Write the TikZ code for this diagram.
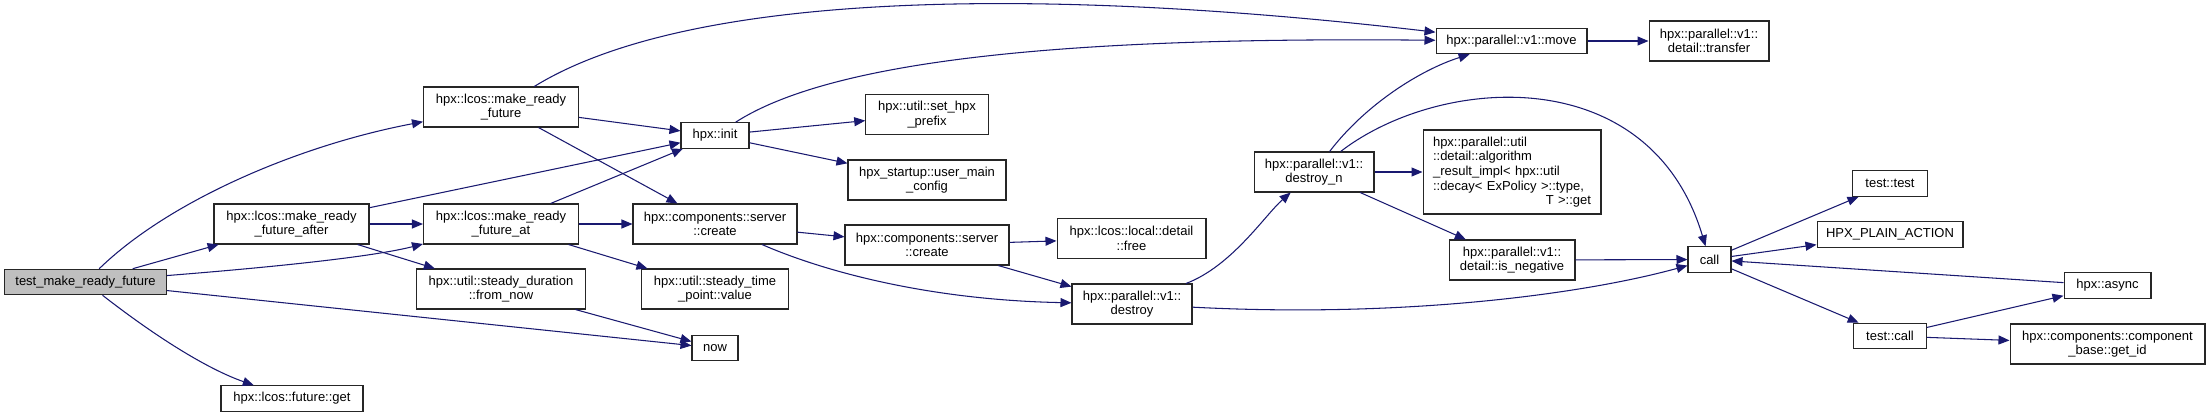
\documentclass[tikz,border=0pt]{standalone}
\usepackage{fontspec}
\setmainfont{Liberation Sans}
\usetikzlibrary{arrows.meta}
\definecolor{edgeBlue}{HTML}{191970}
\definecolor{rootGray}{HTML}{BFBFBF}
\tikzset{
  every node/.style={font=\fontsize{7.4}{8.35}\selectfont},
  fn/.style={draw=black!85, line width=0.6pt, fill=white, inner xsep=2pt, inner ysep=1pt,
             minimum height=0.51cm, align=center},
  fnTwo/.style={fn, minimum height=0.80cm},
  fnRoot/.style={fn, fill=rootGray},
  arr/.style={-{Triangle[length=0.22cm,width=0.18cm]}, draw=edgeBlue, line width=0.6pt},
}

\begin{document}
\begin{tikzpicture}[x=0.02cm, y=-0.02cm]
  \useasboundingbox[fill=white] (0,0) rectangle (2211,417);
  % caller
  \node[fnRoot, minimum width=3.24cm] (tmrf) at (85.5,282) {test\_make\_ready\_future};
  % first rank
  \node[fnTwo, minimum width=3.10cm] (mrfa)  at (291.5,224) {hpx::lcos::make\_ready\\\_future\_after};
  \node[fn,    minimum width=2.84cm] (fget)  at (292,398.5) {hpx::lcos::future::get};
  \node[fnTwo, minimum width=3.10cm] (mrf)   at (501,107) {hpx::lcos::make\_ready\\\_future};
  \node[fnTwo, minimum width=3.10cm] (mrfat) at (501,224) {hpx::lcos::make\_ready\\\_future\_at};
  \node[fnTwo, minimum width=3.37cm] (fromnow) at (501,289) {hpx::util::steady\_duration\\::from\_now};
  % middle
  \node[fn,    minimum width=1.36cm] (init) at (715,135.5) {hpx::init};
  \node[fnTwo, minimum width=3.28cm] (csc1) at (715,224) {hpx::components::server\\::create};
  \node[fnTwo, minimum width=2.94cm] (stpv) at (715,289) {hpx::util::steady\_time\\\_point::value};
  \node[fn,    minimum width=0.92cm] (now)  at (715,348) {now};
  \node[fnTwo, minimum width=2.45cm] (prefix) at (927,114.5) {hpx::util::set\_hpx\\\_prefix};
  \node[fnTwo, minimum width=3.16cm] (umc)    at (927,180) {hpx\_startup::user\_main\\\_config};
  \node[fnTwo, minimum width=3.28cm] (csc2)   at (927,245) {hpx::components::server\\::create};
  \node[fnTwo, minimum width=2.98cm] (free)    at (1131.5,238.5) {hpx::lcos::local::detail\\::free};
  \node[fnTwo, minimum width=2.40cm] (destroy) at (1132,304) {hpx::parallel::v1::\\destroy};
  \node[fnTwo, minimum width=2.40cm] (destroyn) at (1314,172) {hpx::parallel::v1::\\destroy\_n};
  % parallel algorithms
  \node[fn,    minimum width=3.02cm] (move) at (1511.5,41) {hpx::parallel::v1::move};
  \node[fn, minimum height=1.68cm, text width=3.16cm, inner xsep=0.2cm, align=left] (algo) at (1512,172)
    {hpx::parallel::util\\::detail::algorithm\\\_result\_impl< hpx::util\\::decay< ExPolicy >::type,\\\hspace*{\fill}T >::get\hspace*{\fill}};
  \node[fnTwo, minimum width=2.52cm] (isneg)    at (1512,260) {hpx::parallel::v1::\\detail::is\_negative};
  \node[fnTwo, minimum width=2.40cm] (transfer) at (1709,41) {hpx::parallel::v1::\\detail::transfer};
  % call and its callees
  \node[fn, minimum width=0.86cm] (call)  at (1709.5,259.5) {call};
  \node[fn, minimum width=1.49cm] (ttest) at (1890,183.5) {test::test};
  \node[fn, minimum width=2.92cm] (plain) at (1890,234.5) {HPX\_PLAIN\_ACTION};
  \node[fn, minimum width=1.45cm] (tcall) at (1890,336) {test::call};
  \node[fn, minimum width=1.74cm] (async) at (2107.5,285.5) {hpx::async};
  \node[fnTwo, minimum width=3.90cm] (getid) at (2107.5,344) {hpx::components::component\\\_base::get\_id};
  % edges from the caller
  \draw[arr] (tmrf) .. controls (170,200) and (300,145) .. (mrf);
  \draw[arr] (tmrf) -- (mrfa);
  \draw[arr] (tmrf) .. controls (300,265) and (380,255) .. (mrfat);
  \draw[arr] (tmrf) -- (now);
  \draw[arr] (tmrf) .. controls (160,340) and (210,370) .. (fget);
  % make_ready_future family
  \draw[arr] (mrf) .. controls (694,-12) and (1056,-12) .. (move);
  \draw[arr] (mrf) -- (init); \draw[arr] (mrf) -- (csc1);
  \draw[arr] (mrfa) -- (init); \draw[arr] (mrfa) -- (mrfat); \draw[arr] (mrfa) -- (fromnow);
  \draw[arr] (mrfat) -- (init); \draw[arr] (mrfat) -- (csc1); \draw[arr] (mrfat) -- (stpv);
  \draw[arr] (fromnow) -- (now);
  % init
  \draw[arr] (init) .. controls (840,55) and (1100,37) .. (move);
  \draw[arr] (init) -- (prefix); \draw[arr] (init) -- (umc);
  % create / destroy
  \draw[arr] (csc1) -- (csc2);
  \draw[arr] (csc1) .. controls (825,272) and (930,300) .. (destroy);
  \draw[arr] (csc2) -- (free); \draw[arr] (csc2) -- (destroy);
  \draw[arr] (destroy) .. controls (1232,266) and (1265,215) .. (destroyn);
  \draw[arr] (destroy) .. controls (1400,318) and (1580,295) .. (call);
  \draw[arr] (destroyn) .. controls (1365,105) and (1420,70) .. (move);
  \draw[arr] (destroyn) .. controls (1440,75) and (1650,60) .. (call);
  \draw[arr] (destroyn) -- (algo); \draw[arr] (destroyn) -- (isneg);
  \draw[arr] (isneg) -- (call);
  \draw[arr] (move) -- (transfer);
  % call
  \draw[arr] (call) -- (ttest); \draw[arr] (call) -- (plain); \draw[arr] (call) -- (tcall);
  \draw[arr] (async) -- (call);
  \draw[arr] (tcall) -- (async); \draw[arr] (tcall) -- (getid);
\end{tikzpicture}
\end{document}
